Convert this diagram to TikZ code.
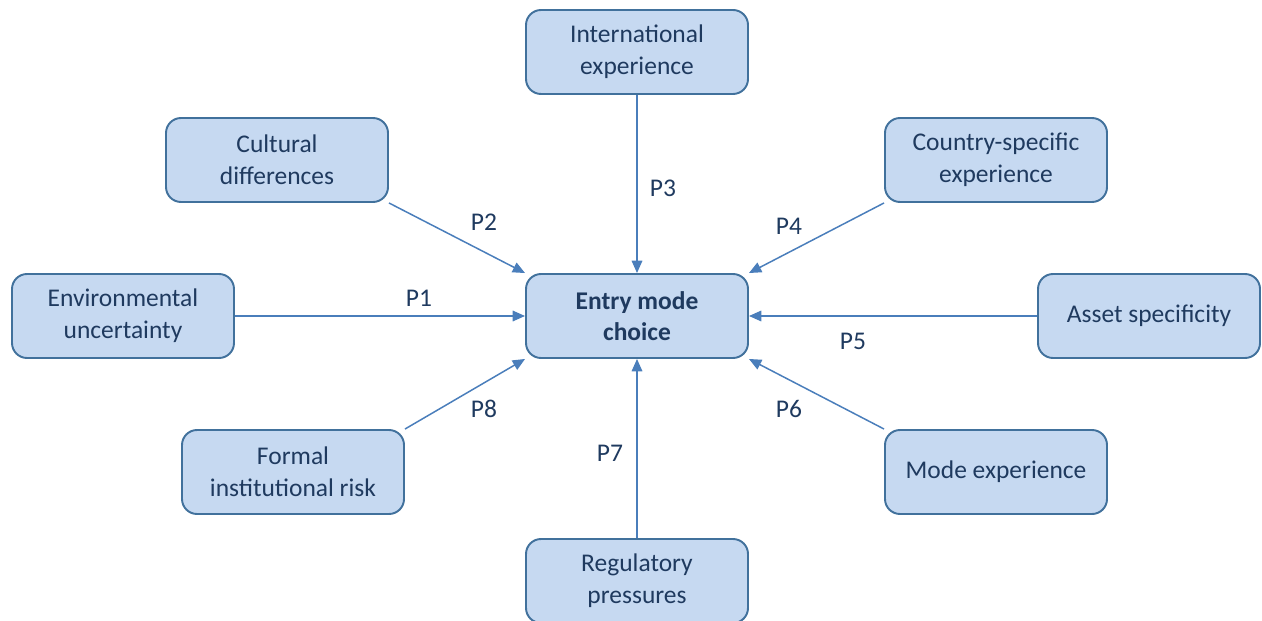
\documentclass[tikz,border=0pt]{standalone}
\usepackage{fontspec}
\setmainfont{Carlito}
\usetikzlibrary{arrows.meta}
\definecolor{boxfill}{HTML}{C6D9F1}
\definecolor{boxline}{HTML}{41719C}
\definecolor{arrowblue}{HTML}{4A7EBB}
\definecolor{textblue}{HTML}{1F3A5F}
\tikzset{
 box/.style={draw=boxline,line width=1.1pt,fill=boxfill,rounded corners=0.3cm,
  minimum width=4.44cm,minimum height=1.68cm,align=center,text=textblue,
  font=\fontsize{14.5}{18}\selectfont},
 hub/.style={box,font=\fontsize{14.5}{18}\selectfont\bfseries},
 lab/.style={text=textblue,font=\fontsize{14.5}{18}\selectfont},
 arr/.style={draw=arrowblue,line width=0.85pt,-{Triangle[length=7pt,width=6pt]}}
}
\begin{document}
\begin{tikzpicture}
 \useasboundingbox (0,0) rectangle (25.24,-12.42);
 % boxes
 \node[hub] (entry) at (12.74,-6.32) {Entry mode\\choice};
 \node[box] (intl) at (12.74,-1.04) {International\\experience};
 \node[box] (cult) at (5.54,-3.20) {Cultural\\differences};
 \node[box] (ctry) at (19.92,-3.20) {Country-specific\\experience};
 \node[box] (env) at (2.46,-6.32) {Environmental\\uncertainty};
 \node[box] (asset) at (22.98,-6.32) {Asset specificity};
 \node[box] (formal) at (5.86,-9.44) {Formal\\institutional risk};
 \node[box] (modex) at (19.92,-9.44) {Mode experience};
 \node[box] (reg) at (12.74,-11.62) {Regulatory\\pressures};
 % arrows
 \draw[arr] (env.east) -- (entry.west);
 \draw[arr] (cult.south east) -- (entry.north west);
 \draw[arr] (intl.south) -- (entry.north);
 \draw[arr] (ctry.south west) -- (entry.north east);
 \draw[arr] (asset.west) -- (entry.east);
 \draw[arr] (modex.north west) -- (entry.south east);
 \draw[arr] (reg.north) -- (entry.south);
 \draw[arr] (formal.north east) -- (entry.south west);
 % labels
 \node[lab] (p1) at (8.38,-5.96) {P1};
 \node[lab] (p2) at (9.68,-4.44) {P2};
 \node[lab] (p3) at (13.26,-3.76) {P3};
 \node[lab] (p4) at (15.78,-4.52) {P4};
 \node[lab] (p5) at (17.06,-6.82) {P5};
 \node[lab] (p6) at (15.78,-8.18) {P6};
 \node[lab] (p7) at (12.20,-9.06) {P7};
 \node[lab] (p8) at (9.68,-8.18) {P8};
\end{tikzpicture}
\end{document}
